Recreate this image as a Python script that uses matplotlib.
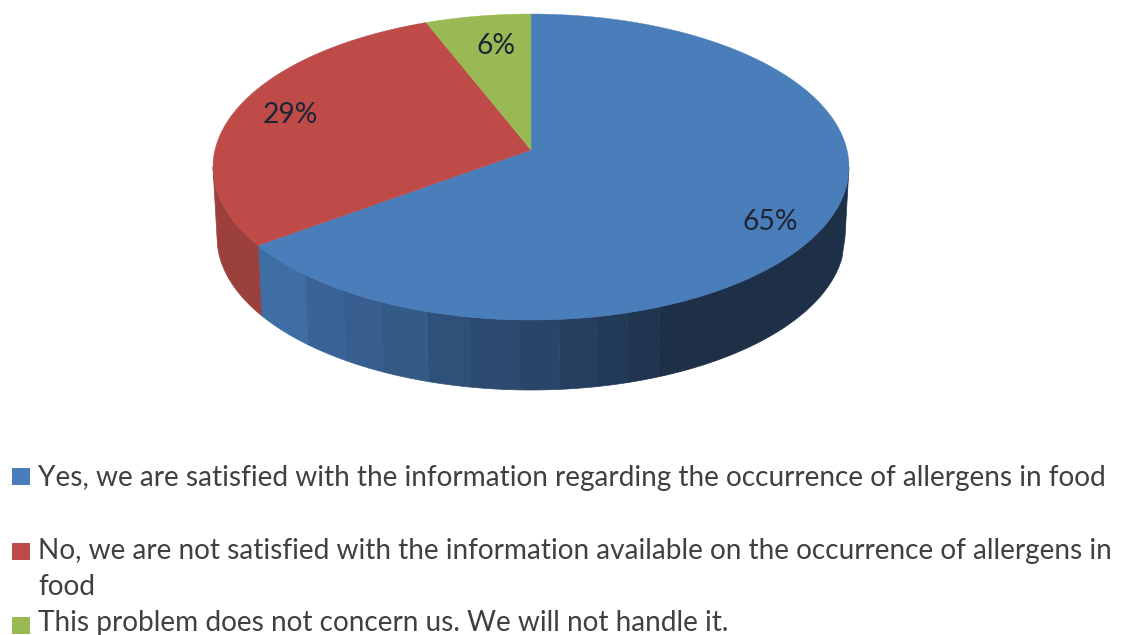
import numpy as np
import matplotlib.pyplot as plt
from matplotlib.patches import Polygon, Rectangle

shares = [65, 29, 6]
pct_labels = ['65%', '29%', '6%']
top_colors = ['#4a7ebb', '#be4b48', '#98b954']
legend_lines = ['Yes, we are satisfied with the information regarding the occurrence of allergens in food',
                'No, we are not satisfied with the information available on the occurrence of allergens in',
                'food',
                'This problem does not concern us. We will not handle it.']

# side shading of the rim, right to left
blue_edges = [849, 660, 628, 597, 560, 519, 470, 427, 381, 343, 305]
blue_shades = ['#1d3048', '#203650', '#233a58', '#263f60', '#294568', '#2c4a70', '#2f5078',
               '#345a86', '#375e8e', '#3a6397', '#3e6ea3']
red_side = '#9c403d'

cx, cy, rx, ry = 531, 167, 318, 153
apex_x, apex_y = 531, 150
bx, by, brx, bry = 531, 237, 314, 153

fig = plt.figure(figsize=(11.21, 6.35), dpi=100)
ax = fig.add_axes([0, 0, 1, 1])
ax.set_xlim(0, 1121)
ax.set_ylim(635, 0)
ax.axis('off')


def rim_point(theta):
    # ray from the apex out to the top ellipse, theta clockwise from 12 o'clock
    dx, dy = rx * np.sin(theta), -ry * np.cos(theta)
    ox, oy = apex_x - cx, apex_y - cy
    a = (dx / rx) ** 2 + (dy / ry) ** 2
    b = 2 * (ox * dx / rx ** 2 + oy * dy / ry ** 2)
    c = (ox / rx) ** 2 + (oy / ry) ** 2 - 1
    s = (-b + np.sqrt(b * b - 4 * a * c)) / (2 * a)
    return apex_x + s * dx, apex_y + s * dy


def top_y(x):
    return cy + ry * np.sqrt(max(0, 1 - ((x - cx) / rx) ** 2))


def bottom_y(x):
    return by + bry * np.sqrt(max(0, 1 - ((x - bx) / brx) ** 2))


def side_strip(x0, x1, color):
    # x0, x1 are on the top ellipse, the lower edge is the smaller ellipse
    xs = np.linspace(x0, x1, 60)
    up = [(x, top_y(x)) for x in xs]
    xl = bx + (xs[::-1] - cx) * brx / rx
    low = [(x, bottom_y(x)) for x in xl]
    ax.add_patch(Polygon(up + low, closed=True, fc=color, ec=color, lw=0.5))


# rim
cum = np.cumsum([0] + shares) / sum(shares) * 2 * np.pi
split_x = rim_point(cum[1])[0]
edges = blue_edges[1:] + [split_x]
for i in range(len(blue_edges)):
    side_strip(blue_edges[i], edges[i], blue_shades[i])
side_strip(split_x, cx - rx, red_side)

# top face
for i in range(len(shares)):
    th = np.linspace(cum[i], cum[i + 1], 200)
    pts = [(apex_x, apex_y)] + [rim_point(t) for t in th]
    ax.add_patch(Polygon(pts, closed=True, fc=top_colors[i], ec=top_colors[i], lw=0.3))

# percent labels
label_pos = [(770, 222), (290, 115), (496, 46)]
for txt, (x, y) in zip(pct_labels, label_pos):
    ax.text(x, y, txt, ha='center', va='center', fontsize=20.3, family='Lato', color='#1d2433')

# legend
legend_y = [478, 551, 587, 623]
for line, y in zip(legend_lines, legend_y):
    ax.text(38, y, line, ha='left', va='center', fontsize=20.2, family='Lato', color='#404040')
for color, y in zip(top_colors, [468, 543, 617]):
    ax.add_patch(Rectangle((12, y), 18, 17, fc=color, ec='none'))

fig.savefig('out.png', dpi=100, facecolor='white')
